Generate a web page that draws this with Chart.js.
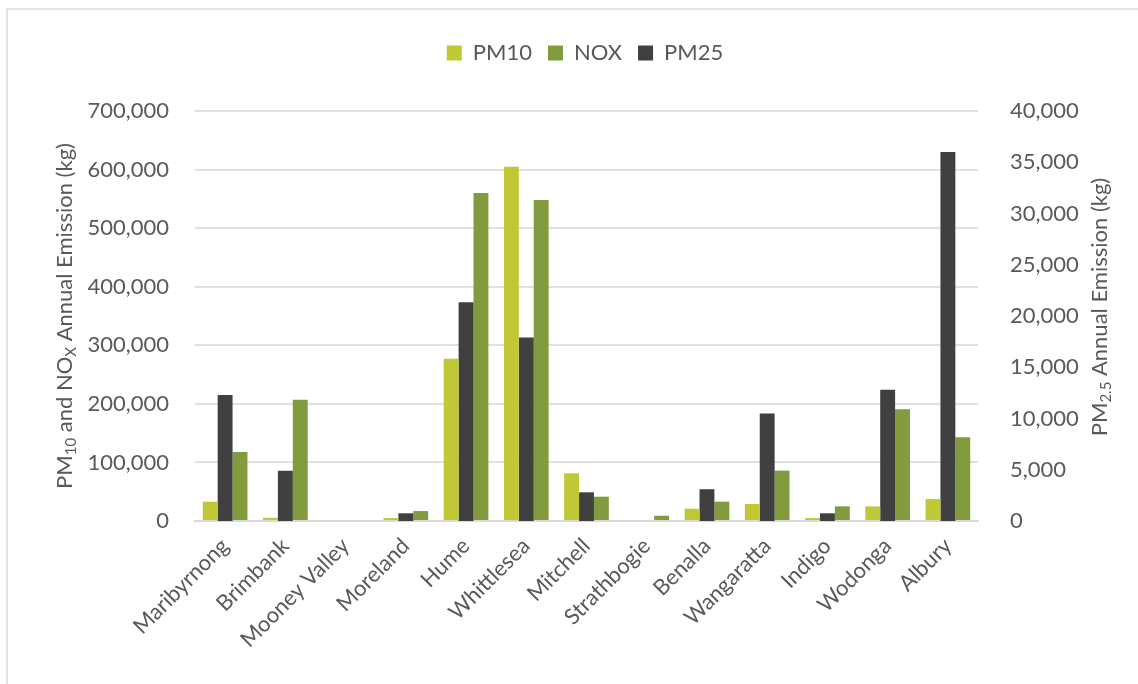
<!DOCTYPE html>
<html>
<head>
<meta charset="utf-8">
<title>Annual Emission by LGA</title>
<script src="https://cdn.jsdelivr.net/npm/chart.js@4.4.1/dist/chart.umd.min.js"></script>
<style>
  body { margin: 0; background: #fff; }
  #wrap { position: relative; width: 1138px; height: 684px; }
  #frame { position: absolute; left: 6px; top: 8px; right: 0; bottom: 0;
           border-top: 2px solid #e4e4e4; border-left: 2px solid #e4e4e4; pointer-events: none; }
</style>
</head>
<body>
<div id="wrap">
  <canvas id="emissionChart"></canvas>
  <div id="frame"></div>
</div>
<script>
const categories = ["Maribyrnong", "Brimbank", "Mooney Valley", "Moreland", "Hume", "Whittlesea",
  "Mitchell", "Strathbogie", "Benalla", "Wangaratta", "Indigo", "Wodonga", "Albury"];
const pm10 = [33000, 5500, 0, 5000, 277000, 605000, 81500, 0, 21000, 29000, 5000, 25000, 37500];
const nox = [118000, 207000, 0, 17000, 560000, 548000, 41500, 9000, 33000, 86000, 25000, 191000, 143000];
const pm25 = [12300, 4900, 0, 750, 21350, 17900, 2800, 0, 3100, 10500, 750, 12800, 36000];

const leftMax = 700000;
const rightMax = 40000;
const legendOrder = ["PM10", "NOX", "PM25"];

const FONT = "Lato, 'Open Sans', sans-serif";
const TEXT = "#595959";

// axis titles with subscripts, drawn by hand
const leftTitle = [["PM"], ["10", true], [" and NO"], ["X", true], [" Annual Emission (kg)"]];
const rightTitle = [["PM"], ["2.5", true], [" Annual Emission (kg)"]];

function drawRich(ctx, parts, x, y) {
  const big = "22px " + FONT;
  const small = "15px " + FONT;
  let total = 0;
  parts.forEach(p => {
    ctx.font = p[1] ? small : big;
    total += ctx.measureText(p[0]).width;
  });
  ctx.save();
  ctx.translate(x, y);
  ctx.rotate(-Math.PI / 2);
  ctx.fillStyle = TEXT;
  ctx.textBaseline = "alphabetic";
  let pos = -total / 2;
  parts.forEach(p => {
    ctx.font = p[1] ? small : big;
    ctx.fillText(p[0], pos, p[1] ? 12 : 8);
    pos += ctx.measureText(p[0]).width;
  });
  ctx.restore();
}

const axisTitles = {
  id: "axisTitles",
  afterLayout(chart) {
    // legend sits higher than the plot area and a bit right of centre
    const lg = chart.legend;
    lg.top -= 37; lg.bottom -= 37;
    lg.left += 16; lg.right += 16;
  },
  afterDraw(chart) {
    const area = chart.chartArea;
    const mid = (area.top + area.bottom) / 2;
    drawRich(chart.ctx, leftTitle, 64, mid);
    drawRich(chart.ctx, rightTitle, 1099, mid - 9);
  }
};

const ctx = document.getElementById("emissionChart").getContext("2d");
new Chart(ctx, {
  type: "bar",
  data: {
    labels: categories,
    datasets: [
      { label: "PM10", data: pm10, backgroundColor: "#c0c935", yAxisID: "y" },
      { label: "PM25", data: pm25, backgroundColor: "#404040", yAxisID: "y2" },
      { label: "NOX", data: nox, backgroundColor: "#829b3c", yAxisID: "y" }
    ]
  },
  options: {
    responsive: true,
    maintainAspectRatio: false,
    animation: false,
    layout: { padding: { top: 26 } },
    datasets: {
      bar: { categoryPercentage: 0.742, barPercentage: 1.0, borderWidth: 0 }
    },
    plugins: {
      tooltip: { enabled: false },
      legend: {
        position: "top",
        labels: {
          font: { family: FONT, size: 22 },
          color: TEXT,
          boxWidth: 15,
          boxHeight: 15,
          padding: 16,
          sort: (a, b) => legendOrder.indexOf(a.text) - legendOrder.indexOf(b.text)
        }
      }
    },
    scales: {
      x: {
        grid: { display: false },
        border: { color: "#d9d9d9", width: 2 },
        ticks: {
          color: TEXT,
          font: { family: FONT, size: 22 },
          maxRotation: 45,
          minRotation: 45,
          autoSkip: false,
          padding: 4
        },
        afterFit: s => { s.height = 163; }
      },
      y: {
        position: "left",
        min: 0,
        max: leftMax,
        grid: { color: "#e0e0e0", lineWidth: 2, drawTicks: false },
        border: { display: false },
        ticks: {
          stepSize: 100000,
          color: TEXT,
          font: { family: FONT, size: 22 },
          padding: 26,
          callback: v => v.toLocaleString("en-US")
        },
        afterFit: s => { s.width = 195; s.paddingTop = 111; }
      },
      y2: {
        position: "right",
        min: 0,
        max: rightMax,
        grid: { display: false },
        border: { display: false },
        ticks: {
          stepSize: 5000,
          color: TEXT,
          font: { family: FONT, size: 22 },
          padding: 24,
          callback: v => v.toLocaleString("en-US")
        },
        afterFit: s => { s.width = 160; }
      }
    }
  },
  plugins: [axisTitles]
});
</script>
</body>
</html>
